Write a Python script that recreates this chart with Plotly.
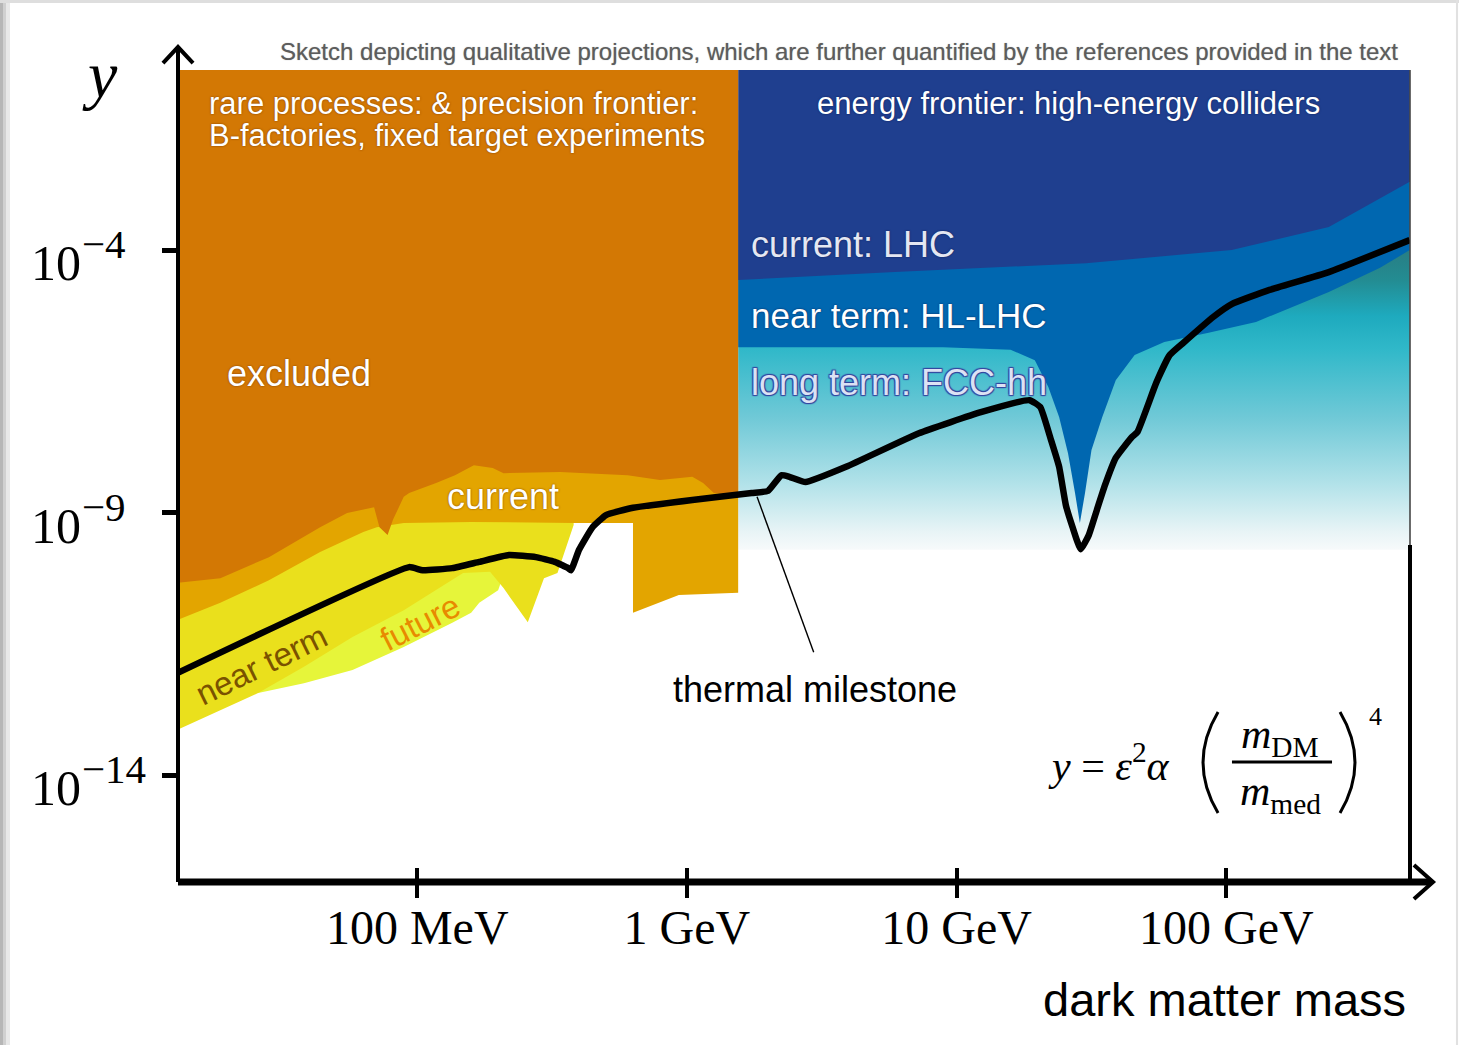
import numpy as np
import plotly.graph_objects as go

# ---------------------------------------------------------------------------
# Axes: dark matter mass (GeV, log) vs. y = eps^2 alpha (m_DM / m_med)^4 (log)
# ---------------------------------------------------------------------------
mass_ticks = [0.1, 1, 10, 100]
mass_tick_text = ["100 MeV", "1 GeV", "10 GeV", "100 GeV"]
y_tick_exponents = [-4, -9, -14]

mass_range_exp = [-1.887, 2.681]   # log10(m / GeV) at the plot edges
y_range_exp = [-16.038, -0.571]    # log10(y) at the plot edges

# Regions are sketched as polygons: log10(mass / GeV) and log10(y)
# rare processes / precision frontier: excluded
excluded_mass_exp = [-1.89, 0.19, 0.19, 0.10, 0.06, 0.02, -0.10, -0.22, -0.47, -0.68,
                     -0.72, -0.79, -0.86, -0.93, -1.03, -1.05, -1.09, -1.11, -1.14,
                     -1.16, -1.26, -1.36, -1.55, -1.73, -1.89]
excluded_y_exp = [-0.57, -0.57, -8.67, -8.63, -8.44, -8.32, -8.38, -8.29, -8.23, -8.25,
                  -8.15, -8.10, -8.29, -8.44, -8.63, -8.70, -9.14, -9.43, -9.28,
                  -8.90, -9.01, -9.28, -9.85, -10.25, -10.34]

# current fixed-target / B-factory reach
current_mass_exp = [-1.89, 0.19, 0.19, -0.03, -0.20, -0.20, -0.42, -0.80, -1.05, -1.15,
                    -1.20, -1.36, -1.55, -1.73, -1.89]
current_y_exp = [-6.86, -6.86, -10.53, -10.57, -10.91, -9.20, -9.20, -9.18, -9.20, -9.28,
                 -9.37, -9.75, -10.29, -10.72, -11.05]

# near-term reach
near_mass_exp = [-1.89, -0.42, -0.42, -0.48, -0.53, -0.59, -0.68, -0.73, -0.83, -0.93,
                 -1.05, -1.24, -1.42, -1.59, -1.89]
near_y_exp = [-8.38, -8.38, -9.24, -10.15, -10.25, -11.09, -10.44, -10.13, -10.15, -10.48,
              -10.86, -11.37, -11.94, -12.44, -13.14]

# future reach
future_mass_exp = [-1.59, -1.42, -1.24, -1.05, -0.87, -0.80, -0.77, -0.70, -0.68, -0.69,
                   -1.59]
future_y_exp = [-12.44, -12.25, -12.00, -11.56, -11.10, -10.91, -10.72, -10.48, -10.19,
                -9.52, -11.62]

# energy frontier: LHC today
lhc_mass_exp = [0.19, 2.68, 2.68, 2.56, 2.38, 2.02, 1.48, 0.77, 0.19]
lhc_y_exp = [-0.57, -0.57, -2.70, -3.05, -3.56, -4.00, -4.25, -4.42, -4.57]

# HL-LHC
hllhc_mass_exp = [0.19, 2.68, 2.68, 2.57, 2.38, 2.11, 1.93, 1.77, 1.66, 1.59, 1.54, 1.50,
                  1.476, 1.457, 1.439, 1.413, 1.38, 1.34, 1.29, 1.20, 0.95, 0.19]
hllhc_y_exp = [-2.10, -2.10, -4.00, -4.34, -4.80, -5.37, -5.58, -5.75, -6.00, -6.48, -7.18,
               -7.81, -8.63, -9.20, -8.63, -7.87, -7.18, -6.61, -6.10, -5.90, -5.85, -5.85]

# FCC-hh (fading reach)
fcc_mass_exp = [0.19, 2.68, 2.68, 0.19]
fcc_y_exp = [-4.00, -4.00, -9.71, -9.71]

# thermal relic milestone
thermal_mass_exp = [-1.89, -1.03, -0.98, -0.87, -0.77, -0.66, -0.56, -0.49, -0.44, -0.43,
                    -0.40, -0.35, -0.30, -0.20, 0.02, 0.24, 0.30, 0.35, 0.38, 0.44, 0.59,
                    0.86, 1.09, 1.27, 1.31, 1.35, 1.38, 1.405, 1.43, 1.46, 1.49, 1.52,
                    1.55, 1.59, 1.65, 1.67, 1.74, 1.79, 1.84, 1.95, 2.02, 2.16, 2.38, 2.68]
thermal_y_exp = [-12.06, -10.04, -10.10, -10.06, -9.94, -9.81, -9.85, -9.94, -10.06, -10.10,
                 -9.71, -9.28, -9.05, -8.91, -8.76, -8.63, -8.59, -8.29, -8.32, -8.42, -8.13,
                 -7.49, -7.09, -6.86, -6.99, -7.62, -8.13, -8.86, -9.28, -9.70, -9.43, -8.95,
                 -8.48, -7.96, -7.56, -7.47, -6.53, -6.00, -5.77, -5.28, -5.03, -4.76, -4.42,
                 -3.81]

# leader from the "thermal milestone" label to the curve
pointer_mass_exp = [0.26, 0.47]
pointer_y_exp = [-8.70, -11.66]

ORANGE = "#D37804"
AMBER = "#E3A500"
YELLOW = "#EAE01C"
LIGHT_YELLOW = "#E6F53A"
NAVY = "#1F3F8F"
MID_BLUE = "#0067B0"
FCC_SCALE = [[0.00, "rgb(247,250,251)"], [0.06, "rgb(232,244,246)"],
             [0.22, "rgb(178,226,233)"], [0.44, "rgb(112,201,215)"],
             [0.67, "rgb(48,184,201)"], [0.78, "rgb(30,170,190)"],
             [0.90, "rgb(35,140,146)"], [1.00, "rgb(40,126,132)"]]

SANS = "Liberation Sans, Arial, sans-serif"
SERIF = "Liberation Serif, Times New Roman, serif"


def pow10(values):
    return 10.0 ** np.asarray(values, dtype=float)


def region(mass_exp, y_exp, color, name, **extra):
    return go.Scatter(x=pow10(mass_exp), y=pow10(y_exp), mode="lines", fill="toself",
                      fillcolor=color, line=dict(width=0, color=color), name=name,
                      hoverinfo="skip", showlegend=False, **extra)


fig = go.Figure()
fig.add_trace(region(fcc_mass_exp, fcc_y_exp, "rgb(120,200,215)", "FCC-hh",
                     fillgradient=dict(type="vertical", colorscale=FCC_SCALE)))
fig.add_trace(region(hllhc_mass_exp, hllhc_y_exp, MID_BLUE, "HL-LHC"))
fig.add_trace(region(lhc_mass_exp, lhc_y_exp, NAVY, "LHC"))
fig.add_trace(region(future_mass_exp, future_y_exp, LIGHT_YELLOW, "future"))
fig.add_trace(region(near_mass_exp, near_y_exp, YELLOW, "near term"))
fig.add_trace(region(current_mass_exp, current_y_exp, AMBER, "current"))
fig.add_trace(region(excluded_mass_exp, excluded_y_exp, ORANGE, "excluded"))

fig.add_trace(go.Scatter(x=pow10(pointer_mass_exp), y=pow10(pointer_y_exp), mode="lines",
                         line=dict(color="black", width=1.4), hoverinfo="skip",
                         showlegend=False))
fig.add_trace(go.Scatter(x=pow10(thermal_mass_exp), y=pow10(thermal_y_exp), mode="lines",
                         line=dict(color="black", width=6.5, shape="spline", smoothing=0.4),
                         hoverinfo="skip", showlegend=False, name="thermal milestone"))

annotations = []


def label(text, x, y, size, color="white", xanchor="left", shadow="none", angle=0,
          family=SANS, xref="x", yref="y", yanchor="middle", yshift=0):
    annotations.append(dict(text=text, x=x, y=y, xref=xref, yref=yref, showarrow=False,
                            xanchor=xanchor, yanchor=yanchor, textangle=angle, yshift=yshift,
                            font=dict(family=family, size=size, color=color, shadow=shadow)))


HALO_ORANGE = "0px 0px 2px rgba(110,50,0,0.9)"
HALO_BLUE = "0px 0px 2px rgba(10,25,80,0.9)"
HALO_FCC = "1px 1px 1px #3446a0, -1px -1px 1px #3446a0, 1px -1px 1px #3446a0, -1px 1px 1px #3446a0"

label("rare processes: &amp; precision frontier:", -1.78, -1.20, 31, shadow=HALO_ORANGE)
label("B-factories, fixed target experiments", -1.78, -1.81, 31, shadow=HALO_ORANGE)
label("energy frontier: high-energy colliders", 1.413, -1.20, 31, xanchor="center",
      shadow=HALO_BLUE)
label("current: LHC", 0.23, -3.90, 36, color="#E4E7F2", shadow=HALO_BLUE)
label("near term: HL-LHC", 0.23, -5.24, 35, shadow=HALO_BLUE)
label("long term: FCC-hh", 0.23, -6.53, 36, color="#DCE2F4", shadow=HALO_FCC)
label("excluded", -1.713, -6.36, 36, shadow=HALO_ORANGE)
label("current", -0.897, -8.70, 36, shadow=HALO_ORANGE)
label("near term", -1.576, -11.90, 33, color="#7A5200", xanchor="center", angle=-26)
label("future", -0.99, -11.10, 33, color="#E88A00", xanchor="center", angle=-27)
label("thermal milestone", 0.475, -12.38, 36, color="black", xanchor="center")

# y-axis tick labels: mantissa and raised exponent, left aligned
for e in y_tick_exponents:
    label("10", -0.1209, e, 50, color="black", family=SERIF, xref="paper", yshift=-13)
    label(f"−{abs(e)}", -0.0796, e, 41, color="black", family=SERIF, xref="paper",
          yshift=6)

# axis titles and note
label("<i>y</i>", -0.0633, 0.995, 66, color="black", family=SERIF, xref="paper",
      yref="paper", xanchor="center")
label("dark matter mass", 0.9984, -0.1453, 47, color="black", xref="paper", yref="paper",
      xanchor="right")
label("Sketch depicting qualitative projections, which are further quantified by the "
      "references provided in the text", 0.9919, 1.0222, 24, color="#5c5c5c",
      xref="paper", yref="paper", xanchor="right", shadow="0px 0px 1px rgba(90,90,90,0.6)")

# definition of y
label("<i>y</i> = <i>ε</i><sup>2</sup><i>α</i>", 0.8068, 0.1466, 42, color="black",
      family=SERIF, xref="paper", yref="paper", xanchor="right")
label("<i>m</i><sub>DM</sub>", 0.8945, 0.1785, 42, color="black", family=SERIF,
      xref="paper", yref="paper", xanchor="center")
label("<i>m</i><sub>med</sub>", 0.8945, 0.1085, 42, color="black", family=SERIF,
      xref="paper", yref="paper", xanchor="center")
label("4", 0.9724, 0.2044, 26, color="black", family=SERIF, xref="paper", yref="paper",
      xanchor="center")

shapes = []


def pshape(**kw):
    kw.setdefault("xref", "paper")
    kw.setdefault("yref", "paper")
    shapes.append(kw)


# fraction bar and parentheses of the formula
pshape(type="line", x0=0.8555, x1=0.9367, y0=0.1478, y1=0.1478,
       line=dict(color="black", width=3))
pshape(type="path", path="M 0.8442 0.2094 Q 0.8198 0.1472 0.8442 0.0850",
       line=dict(color="black", width=3))
pshape(type="path", path="M 0.9432 0.2094 Q 0.9675 0.1472 0.9432 0.0850",
       line=dict(color="black", width=3))

# frame: right edge, axes with arrowheads
pshape(type="line", x0=1, x1=1, y0=0.415, y1=1, line=dict(color="#3a3a3a", width=1.5))
pshape(type="line", x0=1, x1=1, y0=0, y1=0.415, line=dict(color="black", width=4))
pshape(type="line", x0=0, x1=0, y0=0, y1=1.027, line=dict(color="black", width=4))
pshape(type="path", path="M -0.0122 1.0086 L 0 1.0283 L 0.0122 1.0086",
       line=dict(color="black", width=4))
pshape(type="line", x0=0, x1=1.017, y0=0, y1=0, line=dict(color="black", width=7))
pshape(type="path", path="M 1.0032 0.0209 L 1.0187 0 L 1.0032 -0.0209",
       line=dict(color="black", width=4))

# soft page border
for x0, x1, shade in [(-0.14448, -0.14205, "rgb(182,182,182)"),
                      (-0.14205, -0.13961, "rgb(208,208,208)"),
                      (-0.13961, -0.13636, "rgb(232,232,232)")]:
    pshape(type="rect", x0=x0, x1=x1, y0=-0.2007, y1=1.0862, fillcolor=shade,
           line=dict(width=0), layer="above")
pshape(type="rect", x0=-0.14448, x1=1.0398, y0=1.0825, y1=1.0862,
       fillcolor="rgb(222,222,222)", line=dict(width=0))
pshape(type="rect", x0=1.0373, x1=1.0390, y0=-0.2007, y1=1.0862,
       fillcolor="rgb(225,225,225)", line=dict(width=0))

fig.update_layout(
    width=1459, height=1045,
    margin=dict(l=178, r=49, t=70, b=163),
    paper_bgcolor="white", plot_bgcolor="white",
    showlegend=False,
    annotations=annotations,
    shapes=shapes,
    xaxis=dict(type="log", range=mass_range_exp, tickvals=mass_ticks,
               ticktext=mass_tick_text, ticks="outside", ticklen=30, tickwidth=4,
               tickcolor="black", showgrid=False, zeroline=False, showline=False,
               anchor="free", position=0.0185, ticklabelstandoff=-12,
               tickfont=dict(family=SERIF, size=48, color="black")),
    yaxis=dict(type="log", range=y_range_exp, tickvals=[10.0 ** e for e in y_tick_exponents],
               showticklabels=False, ticks="outside", ticklen=15, tickwidth=5,
               tickcolor="black", showgrid=False, zeroline=False, showline=False),
)

fig.write_html("out.html")
